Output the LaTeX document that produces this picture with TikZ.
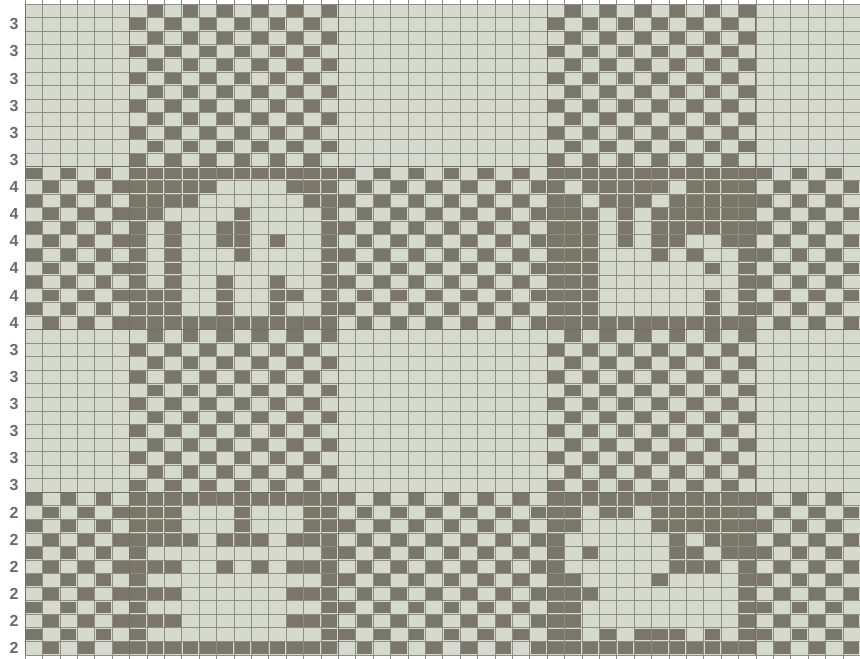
\documentclass[tikz,border=0pt]{standalone}
\usepackage{fontspec}
\setmainfont{Liberation Sans}

\definecolor{paper}{HTML}{D6D9CD}
\definecolor{yarn}{HTML}{7A776A}
\definecolor{rule}{HTML}{8E8E85}
\definecolor{digit}{HTML}{6A6A6A}

\newcommand{\cellw}{17.4}
\newcommand{\cellh}{13.56}

% one filled square: row, column
\newcommand{\darkcell}[2]{%
  \fill[yarn] ({25+(#2-1)*\cellw+0.9},{4+(#1-1)*\cellh+0.9}) rectangle ++({\cellw-1.8},{\cellh-1.8});}

% letter blocks, 12 x 12, 1 = dark
\newcommand{\motifA}{%
  {1,1,1,1,1,1,1,1,1,1,1,1},
  {1,1,1,1,1,0,0,0,0,1,1,1},
  {1,1,1,1,0,0,0,0,0,0,1,1},
  {1,1,0,0,0,0,1,0,0,0,0,1},
  {1,0,1,0,0,1,1,0,0,0,0,1},
  {1,0,1,0,0,1,1,0,1,0,0,1},
  {1,0,1,0,0,0,1,0,0,0,0,1},
  {1,0,1,0,0,0,0,0,0,0,0,1},
  {1,0,1,0,0,1,0,0,1,0,0,1},
  {1,1,1,0,0,1,0,0,1,1,0,1},
  {1,1,1,0,0,1,0,0,1,0,0,1},
  {1,1,1,1,1,1,1,1,1,1,1,1}}
\newcommand{\motifB}{%
  {1,1,1,1,1,1,1,1,1,1,1,1},
  {1,0,1,1,1,1,1,0,1,1,1,1},
  {1,1,0,1,1,1,0,1,1,1,1,1},
  {1,1,1,0,1,0,1,1,1,1,1,1},
  {1,1,1,0,1,0,1,1,1,1,1,1},
  {1,1,1,0,1,0,1,1,0,0,1,1},
  {1,1,1,0,0,0,1,0,1,0,0,1},
  {1,1,1,0,0,0,0,0,0,1,0,1},
  {1,1,1,0,0,0,0,0,0,0,0,1},
  {1,1,1,0,0,0,0,0,0,1,0,1},
  {1,1,1,0,0,0,0,0,0,1,0,1},
  {1,1,1,1,1,1,1,1,1,1,1,1}}
\newcommand{\motifC}{%
  {1,1,1,1,1,1,1,1,1,1,1,1},
  {1,1,1,0,0,0,1,0,0,0,1,1},
  {1,1,1,0,0,0,1,0,0,0,1,1},
  {1,1,1,1,0,1,1,1,0,1,1,1},
  {1,0,0,0,0,0,0,0,0,0,0,1},
  {1,1,1,0,0,1,0,1,0,1,1,1},
  {1,0,0,0,0,0,0,0,0,0,0,1},
  {1,1,1,0,0,0,0,0,0,1,1,1},
  {1,0,0,0,0,0,0,0,0,0,0,1},
  {1,1,1,0,0,0,0,0,0,1,1,1},
  {1,0,0,0,0,0,0,0,0,0,0,1},
  {1,1,1,1,1,1,1,1,1,1,1,1}}
\newcommand{\motifD}{%
  {1,1,1,1,1,1,1,1,1,1,1,1},
  {1,1,0,1,1,0,1,1,1,1,1,1},
  {1,1,0,0,0,0,1,1,1,1,1,1},
  {1,0,0,0,0,0,0,1,0,1,1,1},
  {1,0,1,0,0,0,0,1,1,0,1,1},
  {1,0,0,0,0,0,0,1,1,1,0,1},
  {1,1,0,0,0,0,1,0,0,0,0,1},
  {1,1,1,0,0,0,0,0,0,0,0,1},
  {1,1,0,0,0,0,0,0,0,0,0,1},
  {1,1,0,0,0,0,0,0,0,0,0,1},
  {1,1,0,1,0,1,1,1,0,1,0,1},
  {1,1,1,1,1,1,1,1,1,1,1,1}}

\newcommand{\drawmotif}[3]{%
  \foreach \row [count=\r] in #3 {
    \foreach \v [count=\c] in \row {
      \ifnum\v=1 \darkcell{\r+#1}{\c+#2}\fi
    }
  }}

\begin{document}
\begin{tikzpicture}[x=1pt, y=-1pt, every node/.style={font=\fontsize{16}{16}\selectfont\bfseries, text=digit}]
  \useasboundingbox (0,0) rectangle (860,659);

  % Paper
  \fill[paper] (25,4) rectangle (860,655);

  % Checks, bands 1 and 3
  \foreach \ys in {0,24} {
    \foreach \xs in {6,30} {
      \foreach \r in {1,...,12} {
        \foreach \c in {1,...,12} {
          \pgfmathtruncatemacro{\s}{\r+\c+\ys+\xs}
          \ifodd\s \darkcell{\r+\ys}{\c+\xs}\fi
        }
      }
    }
  }

  % Checks, bands 2 and 4
  \foreach \ys in {12,36} {
    \foreach \xs/\n in {0/6,18/12,42/6} {
      \foreach \r in {1,...,12} {
        \foreach \c in {1,...,\n} {
          \pgfmathtruncatemacro{\s}{\r+\c+\ys+\xs+1}
          \ifodd\s \darkcell{\r+\ys}{\c+\xs}\fi
        }
      }
    }
  }

  % Letter blocks
  \drawmotif{12}{6}{\motifA}
  \drawmotif{12}{30}{\motifB}
  \drawmotif{36}{6}{\motifC}
  \drawmotif{36}{30}{\motifD}

  % Grid
  \foreach \c in {0,...,48}
    \draw[rule, line width=0.6pt] ({25+\c*\cellw},0) -- ({25+\c*\cellw},659);
  \foreach \r in {0,...,48}
    \draw[rule, line width=0.6pt] (25,{4+\r*\cellh}) -- (860,{4+\r*\cellh});
  \foreach \c in {0,6,18,30,42}
    \draw[rule!80!black, line width=0.9pt] ({25+\c*\cellw},4) -- ({25+\c*\cellw},655);
  \foreach \r in {12,24,36}
    \draw[rule!80!black, line width=0.9pt] (25,{4+\r*\cellh}) -- (860,{4+\r*\cellh});

  % Row counts
  \foreach \t [count=\i] in {3,3,3,3,3,3,4,4,4,4,4,4,3,3,3,3,3,3,2,2,2,2,2,2}
    \node (lab\i) at (14,{4+(2*\i-0.5)*\cellh}) {\t};
\end{tikzpicture}
\end{document}
